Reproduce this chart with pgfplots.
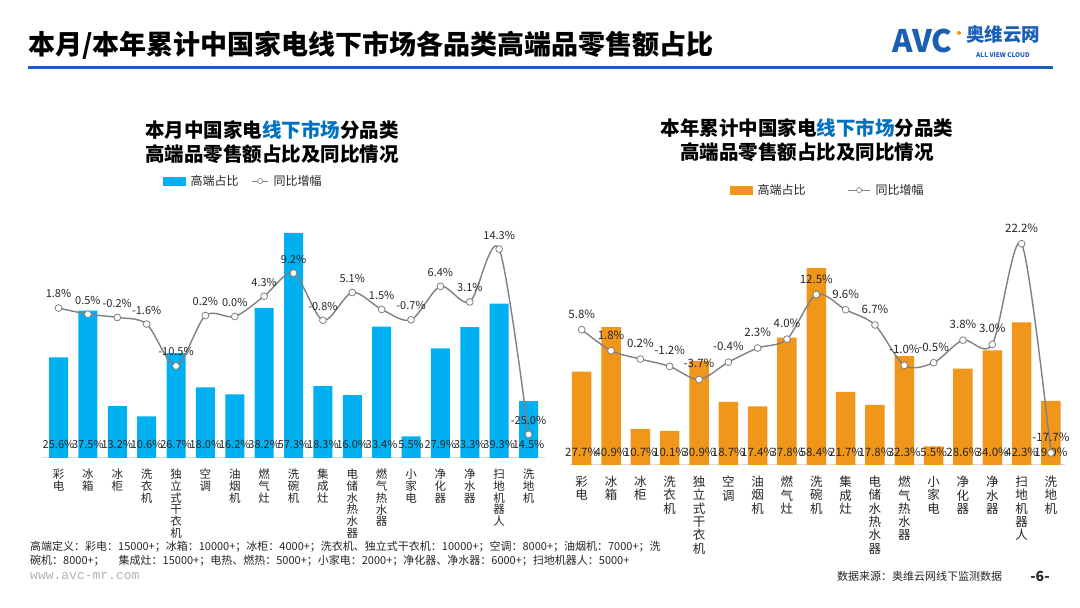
\documentclass[border=0pt]{standalone}
\usepackage{fontspec}
\setmainfont{Noto Sans CJK SC}
\newfontfamily\monofont{Liberation Mono}
\usepackage{pgfplots}
\pgfplotsset{compat=1.18}
\usepackage{pgfplotstable}
\definecolor{barblue}{HTML}{00B0F0}
\definecolor{barorange}{HTML}{F0961B}
\definecolor{linegray}{HTML}{808080}
\definecolor{titleblue}{HTML}{0070C0}
\definecolor{rulecol}{HTML}{1A5FB4}
\definecolor{axisgray}{HTML}{D9D9D9}
\definecolor{txt}{HTML}{262626}

\pgfplotstableread{
x v g z
0 25.6 1.8 0
1 37.5 0.5 0
2 13.2 -0.2 0
3 10.6 -1.6 0
4 26.7 -10.5 0
5 18.0 0.2 0
6 16.2 0.0 0
7 38.2 4.3 0
8 57.3 9.2 0
9 18.3 -0.8 0
10 16.0 5.1 0
11 33.4 1.5 0
12 5.5 -0.7 0
13 27.9 6.4 0
14 33.3 3.1 0
15 39.3 14.3 0
16 14.5 -25.0 0
}\leftdata

\pgfplotstableread{
x v g z
0 27.7 5.8 0
1 40.9 1.8 0
2 10.7 0.2 0
3 10.1 -1.2 0
4 30.9 -3.7 0
5 18.7 -0.4 0
6 17.4 2.3 0
7 37.8 4.0 0
8 58.4 12.5 0
9 21.7 9.6 0
10 17.8 6.7 0
11 32.3 -1.0 0
12 5.5 -0.5 0
13 28.6 3.8 0
14 34.0 3.0 0
15 42.3 22.2 0
16 19.0 -17.7 0
}\rightdata

\pgfplotsset{
  catlabels/.style={
    xtick={0,...,16},
    xticklabels={{彩\\电},{冰\\箱},{冰\\柜},{洗\\衣\\机},{独\\立\\式\\干\\衣\\机},{空\\调},{油\\烟\\机},{燃\\气\\灶},{洗\\碗\\机},{集\\成\\灶},{电\\储\\水\\热\\水\\器},{燃\\气\\热\\水\\器},{小\\家\\电},{净\\化\\器},{净\\水\\器},{扫\\地\\机\\器\\人},{洗\\地\\机}},
  },
  pctlabel/.style={
    nodes near coords={\pgfmathprintnumber[fixed,fixed zerofill,precision=1,assume math mode=true]{\pgfplotspointmeta}\%},
  },
}

\begin{document}
\begin{tikzpicture}[x=1pt,y=1pt]
\fill[white] (0,0) rectangle (1080,608);
\useasboundingbox (0,0) rectangle (1080,608);

% header
\node[anchor=west, inner sep=0pt, text=black] at (28,563) {\fontsize{27}{30}\selectfont\bfseries 本月/本年累计中国家电线下市场各品类高端品零售额占比};
\draw[rulecol, line width=3pt] (28,540) -- (1053,540);
\node[anchor=west, inner sep=0pt, text=rulecol] at (892,567) {\fontsize{31}{33}\selectfont\bfseries AVC};
\fill[barorange] (959,575) circle (2pt);
\node[anchor=west, inner sep=0pt, text=rulecol] at (966,573) {\fontsize{18.5}{20}\selectfont\bfseries 奥维云网};
\node[anchor=west, inner sep=0pt, text=rulecol] at (976,552.5) {\fontsize{6.4}{7}\selectfont\bfseries ALL VIEW CLOUD};

% subtitles
\node[align=center, inner sep=0pt, text=black, font=\fontsize{19.5}{23.5}\selectfont\bfseries] at (272,466) {本月中国家电\textcolor{titleblue}{线下市场}分品类\\ 高端品零售额占比及同比情况};
\node[align=center, inner sep=0pt, text=black, font=\fontsize{19.5}{24}\selectfont\bfseries] at (807,468) {本年累计中国家电\textcolor{titleblue}{线下市场}分品类\\ 高端品零售额占比及同比情况};

% ===== left chart bars =====
\begin{axis}[
  at={(42pt,150pt)}, anchor=south west, scale only axis,
  width=503pt, height=235.8pt,
  xmin=-0.5617, xmax=16.56, ymin=0, ymax=60,
  axis x line*=bottom, axis y line=none,
  x axis line style={draw=axisgray, line width=1pt, -},
  catlabels, major tick length=0pt,
  xticklabel style={font=\fontsize{11.5}{11.7}\selectfont, align=center, inner sep=0pt, yshift=-11pt, text=txt},
  clip=false,
]
\addplot[ybar, bar width=19pt, bar shift=0pt, fill=barblue, draw=none] table[x=x,y=v]{\leftdata};
\addplot[draw=none, mark=none, pctlabel, point meta=\thisrow{v},
  every node near coord/.style={anchor=center, yshift=14pt, inner sep=0pt, text=txt, font=\fontsize{11}{12}\selectfont}]
  table[x=x,y=z]{\leftdata};
\end{axis}
% ===== left chart line =====
\begin{axis}[
  at={(42pt,150pt)}, anchor=south west, scale only axis,
  width=503pt, height=235.8pt,
  xmin=-0.5617, xmax=16.56, ymin=-30, ymax=20,
  hide axis, clip=false,
  legend columns=2,
  legend style={draw=none, fill=none, at={(0.4006,1.1747)}, anchor=center, inner sep=0pt,
    font=\fontsize{12}{14}\selectfont, text=txt,
    /tikz/every odd column/.append style={column sep=3pt},
    /tikz/every even column/.append style={column sep=11pt}},
  legend cell align=left,
]
\addlegendimage{legend image code/.code={\fill[barblue] (0pt,-4pt) rectangle (22pt,4pt);}}
\addlegendentry{高端占比}
\addlegendimage{legend image code/.code={\draw[linegray, line width=1pt] (0pt,0pt) -- (16pt,0pt); \draw[linegray, fill=white, line width=0.6pt] (8pt,0pt) circle (2.6pt);}}
\addlegendentry{同比增幅}
\addplot[forget plot, linegray, line width=1.4pt, smooth, tension=0.5, mark=*, mark size=3.4pt,
  mark options={fill=white, draw=linegray, line width=0.8pt},
  pctlabel, point meta=\thisrow{g},
  every node near coord/.style={anchor=south, yshift=9pt, inner sep=0.5pt, text=txt, font=\fontsize{11}{12}\selectfont}]
  table[x=x,y=g]{\leftdata};
\end{axis}

% ===== right chart bars =====
\begin{axis}[
  at={(570pt,143pt)}, anchor=south west, scale only axis,
  width=495pt, height=236pt,
  xmin=-0.399, xmax=16.48, ymin=0, ymax=70,
  axis x line*=bottom, axis y line=none,
  x axis line style={draw=axisgray, line width=1pt, -},
  catlabels, major tick length=0pt,
  xticklabel style={font=\fontsize{12.5}{13.3}\selectfont, align=center, inner sep=0pt, yshift=-11pt, text=txt},
  clip=false,
]
\addplot[ybar, bar width=19.5pt, bar shift=0pt, fill=barorange, draw=none] table[x=x,y=v]{\rightdata};
\addplot[draw=none, mark=none, pctlabel, point meta=\thisrow{v},
  every node near coord/.style={anchor=center, yshift=12.5pt, inner sep=0pt, text=txt, font=\fontsize{11.5}{12}\selectfont}]
  table[x=x,y=z]{\rightdata};
\end{axis}
% ===== right chart line =====
\begin{axis}[
  at={(570pt,143pt)}, anchor=south west, scale only axis,
  width=495pt, height=236pt,
  xmin=-0.399, xmax=16.48, ymin=-20, ymax=25,
  hide axis, clip=false,
  legend columns=2,
  legend style={draw=none, fill=none, at={(0.521,1.165)}, anchor=center, inner sep=0pt,
    font=\fontsize{12}{14}\selectfont, text=txt,
    /tikz/every odd column/.append style={column sep=3pt},
    /tikz/every even column/.append style={column sep=40pt}},
  legend cell align=left,
]
\addlegendimage{legend image code/.code={\fill[barorange] (0pt,-4pt) rectangle (22pt,4pt);}}
\addlegendentry{高端占比}
\addlegendimage{legend image code/.code={\draw[linegray, line width=1pt] (0pt,0pt) -- (22pt,0pt); \draw[linegray, fill=white, line width=0.6pt] (11pt,0pt) circle (2.6pt);}}
\addlegendentry{同比增幅}
\addplot[forget plot, linegray, line width=1.4pt, smooth, tension=0.5, mark=*, mark size=3.4pt,
  mark options={fill=white, draw=linegray, line width=0.8pt},
  pctlabel, point meta=\thisrow{g},
  every node near coord/.style={anchor=south, yshift=10.5pt, inner sep=0.5pt, text=txt, font=\fontsize{11.5}{12}\selectfont}]
  table[x=x,y=g]{\rightdata};
\end{axis}

% footnotes
\node[anchor=west, inner sep=0pt, text=txt] at (30,61) {\fontsize{11}{12}\selectfont 高端定义：彩电：15000+；冰箱：10000+；冰柜：4000+；洗衣机、独立式干衣机：10000+；空调：8000+；油烟机：7000+；洗};
\node[anchor=west, inner sep=0pt, text=txt] at (30,47) {\fontsize{11}{12}\selectfont 碗机：8000+；\hspace*{14pt}集成灶：15000+；电热、燃热：5000+；小家电：2000+；净化器、净水器：6000+；扫地机器人：5000+};
\node[anchor=west, inner sep=0pt, text=black!30] at (30,32) {\monofont\fontsize{13}{14}\selectfont www.avc-mr.com};
\node[anchor=west, inner sep=0pt, text=txt] at (837,32) {\fontsize{11}{12}\selectfont 数据来源：奥维云网线下监测数据};
\node[anchor=center, inner sep=0pt, text=txt] at (1040,32) {\fontsize{14}{15}\selectfont\bfseries -6-};
\end{tikzpicture}
\end{document}
